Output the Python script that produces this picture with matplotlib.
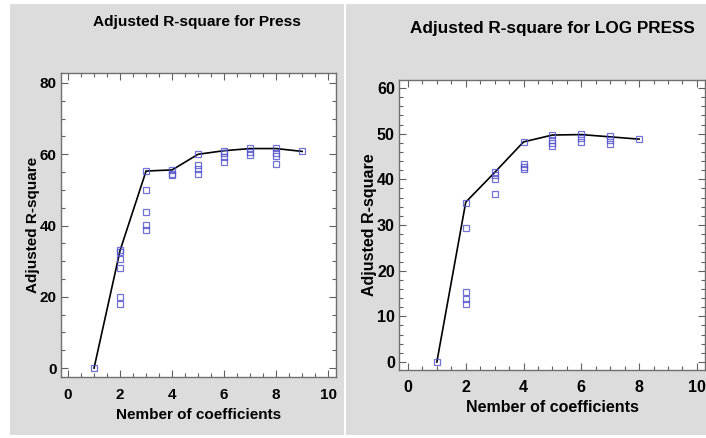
import matplotlib
matplotlib.use("Agg")
import matplotlib.pyplot as plt
from matplotlib.patches import Rectangle
from matplotlib.ticker import MultipleLocator

plt.rcParams['font.family'] = ['Liberation Sans', 'DejaVu Sans']
plt.rcParams['font.weight'] = 'bold'

# Press: all subset models, grouped by number of coefficients
press_x = [1, 2, 2, 2, 2, 2, 2, 3, 3, 3, 3, 3, 4, 4, 4,
           5, 5, 5, 5, 6, 6, 6, 6, 7, 7, 7, 8, 8, 8, 8, 9]
press_y = [0, 33.0, 32.6, 30.5, 28.0, 20.0, 18.1, 55.3, 50.0, 43.9, 40.1, 38.7,
           55.6, 54.6, 54.2, 60.0, 57.0, 55.8, 54.6, 61.0, 60.3, 59.1, 57.9,
           61.7, 60.7, 59.8, 61.7, 60.4, 59.5, 57.3, 60.8]
press_best_x = [1, 2, 3, 4, 5, 6, 7, 8, 9]
press_best_y = [0, 33.0, 55.3, 55.6, 60.0, 61.0, 61.6, 61.6, 60.8]

# LOG PRESS
log_x = [1, 2, 2, 2, 2, 2, 3, 3, 3, 3, 4, 4, 4, 4,
         5, 5, 5, 5, 6, 6, 6, 7, 7, 7, 8]
log_y = [0, 34.9, 29.4, 15.3, 13.9, 12.6, 41.7, 40.9, 40.1, 36.7,
         48.2, 43.3, 42.8, 42.3, 49.7, 48.7, 47.9, 47.3, 49.9, 49.0, 48.2,
         49.4, 48.6, 47.8, 48.8]
log_best_x = [1, 2, 3, 4, 5, 6, 7, 8]
log_best_y = [0, 35.0, 41.5, 48.2, 49.7, 49.8, 49.3, 48.8]

W, H = 706, 438
fig = plt.figure(figsize=(W / 100, H / 100), dpi=100)
fig.patch.set_facecolor('white')

bg = '#dcdcdc'
fig.patches.append(Rectangle((10 / W, 3 / H), 334 / W, 431 / H, transform=fig.transFigure,
                             facecolor=bg, edgecolor='none', zorder=-5))
fig.patches.append(Rectangle((346 / W, 3 / H), 360 / W, 431 / H, transform=fig.transFigure,
                             facecolor=bg, edgecolor='none', zorder=-5))


def panel(rect, xs, ys, bx, by, xlim, ylim, ymaj, ymin, title, title_xy, fs, tfs, xpad):
    ax = fig.add_axes(rect)
    ax.plot(bx, by, color='black', lw=1.2, zorder=2)
    ax.plot(xs, ys, ls='none', marker='s', ms=4.6, mfc='none',
            mec='#5050cc', mew=0.9, alpha=0.8, zorder=3)
    ax.set_xlim(*xlim)
    ax.set_ylim(*ylim)
    ax.xaxis.set_major_locator(MultipleLocator(2))
    ax.xaxis.set_minor_locator(MultipleLocator(0.5))
    ax.yaxis.set_major_locator(MultipleLocator(ymaj))
    ax.yaxis.set_minor_locator(MultipleLocator(ymin))
    ax.tick_params(which='both', direction='in', top=True, right=True,
                   color='#606060', labelsize=fs)
    ax.tick_params(axis='x', pad=xpad)
    ax.tick_params(axis='y', pad=3)
    ax.tick_params(which='major', length=5, width=0.8)
    ax.tick_params(which='minor', length=3, width=0.8)
    for s in ax.spines.values():
        s.set_color('#707070')
        s.set_linewidth(1.0)
    ax.set_xlabel('Nember of coefficients', fontsize=fs, fontweight='bold', labelpad=4)
    ax.set_ylabel('Adjusted R-square', fontsize=fs, fontweight='bold', labelpad=0)
    fig.text(title_xy[0] / W, 1 - title_xy[1] / H, title, ha='center', va='center',
             fontsize=tfs, fontweight='bold')
    return ax


panel([61 / W, 1 - 377 / H, 275 / W, 304 / H], press_x, press_y,
      press_best_x, press_best_y, (-0.27, 10.3), (-2.5, 82.8), 20, 5,
      'Adjusted R-square for Press', (197, 22), 11, 11.1, 8)
panel([399 / W, 1 - 370 / H, 306 / W, 290 / H], log_x, log_y,
      log_best_x, log_best_y, (-0.31, 10.28), (-1.75, 61.75), 10, 2,
      'Adjusted R-square for LOG PRESS', (552, 28), 11.5, 12.3, 7)

fig.savefig('out.png', dpi=100, facecolor='white')
